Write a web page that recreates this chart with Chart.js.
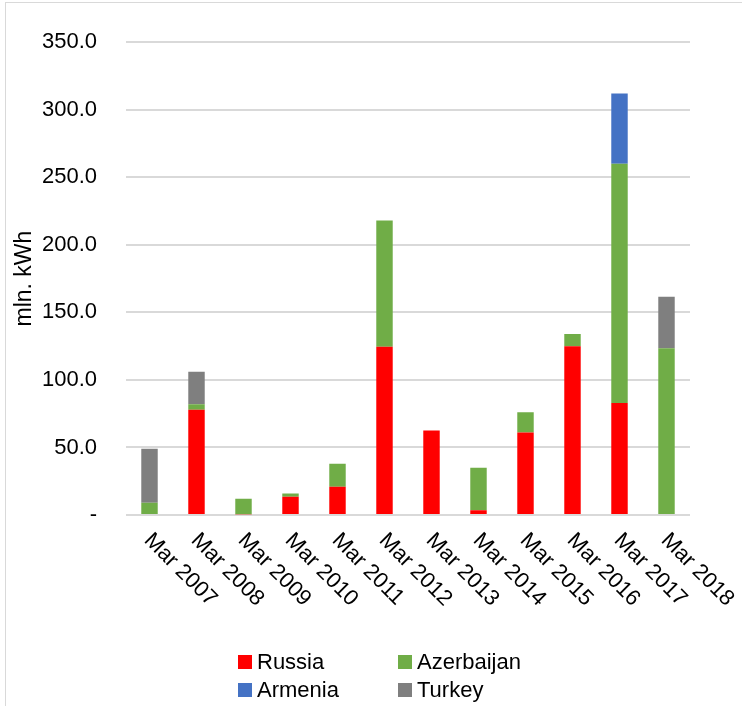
<!DOCTYPE html>
<html>
<head>
<meta charset="utf-8">
<script src="https://cdn.jsdelivr.net/npm/chart.js@4/dist/chart.umd.min.js"></script>
<style>
  html, body { margin: 0; padding: 0; background: #fff; }
  #wrap { position: relative; width: 742px; height: 706px; overflow: hidden; }
  #frame { position: absolute; left: 5px; top: 2px; width: 900px; height: 900px; border: 1px solid #d9d9d9; }
  #c { position: absolute; left: 0; top: 0; }
</style>
</head>
<body>
<div id="wrap">
  <div id="frame"></div>
  <canvas id="c" width="742" height="706"></canvas>
</div>
<script>
const categories = ["Mar 2007","Mar 2008","Mar 2009","Mar 2010","Mar 2011","Mar 2012","Mar 2013","Mar 2014","Mar 2015","Mar 2016","Mar 2017","Mar 2018"];
const russia     = [0, 78, 0.5, 13.5, 21, 124.5, 62.5, 3.5, 61, 125, 83, 0];
const azerbaijan = [9, 4, 11.5, 2.5, 17, 93.5, 0, 31.5, 15, 9, 177, 123.5];
const armenia    = [0, 0, 0, 0, 0, 0, 0, 0, 0, 0, 52, 0];
const turkey     = [40, 24, 0, 0, 0, 0, 0, 0, 0, 0, 0, 38];
const seriesNames = ["Russia", "Azerbaijan", "Armenia", "Turkey"];
const seriesColors = ["#FF0000", "#70AD47", "#4472C4", "#7F7F7F"];
const yTicks = [0, 50, 100, 150, 200, 250, 300, 350];
const yTitle = "mln. kWh";

const FONT = "'Liberation Sans', Arial, sans-serif";
const FSIZE = 22;

const xLabelPlugin = {
  id: 'xLabels',
  afterDraw(chart) {
    const ctx = chart.ctx;
    const xs = chart.scales.x;
    ctx.save();
    ctx.font = FSIZE + "px " + FONT;
    ctx.fillStyle = "#000";
    ctx.textAlign = "left";
    ctx.textBaseline = "middle";
    categories.forEach((lab, i) => {
      const x = xs.getPixelForTick(i);
      const y = chart.chartArea.bottom + 22;
      ctx.save();
      ctx.translate(x - 2, y);
      ctx.rotate(Math.PI / 4);
      ctx.fillText(lab, 0, 0);
      ctx.restore();
    });
    ctx.restore();
  }
};

const legendPlugin = {
  id: 'gridLegend',
  afterDraw(chart) {
    const ctx = chart.ctx;
    ctx.save();
    ctx.font = FSIZE + "px " + FONT;
    ctx.textAlign = "left";
    ctx.textBaseline = "middle";
    const cols = [238, 398];
    const rows = [662, 690];
    seriesNames.forEach((name, i) => {
      const cx = cols[i % 2], cy = rows[Math.floor(i / 2)];
      ctx.fillStyle = seriesColors[i];
      ctx.fillRect(cx, cy - 7, 14, 14);
      ctx.fillStyle = "#000";
      ctx.fillText(name, cx + 19, cy + 1);
    });
    ctx.restore();
  }
};

const seriesData = [russia, azerbaijan, armenia, turkey];

new Chart(document.getElementById('c'), {
  type: 'bar',
  data: {
    labels: categories,
    datasets: seriesNames.map((n, i) => ({
      label: n,
      data: seriesData[i],
      backgroundColor: seriesColors[i],
      borderWidth: 0,
      barPercentage: 0.35,
      categoryPercentage: 1.0
    }))
  },
  options: {
    responsive: false,
    animation: false,
    devicePixelRatio: 1,
    layout: { padding: { left: 0, right: 52, top: 39, bottom: 191 } },
    plugins: {
      legend: { display: false },
      tooltip: { enabled: false }
    },
    scales: {
      x: {
        stacked: true,
        grid: { display: false },
        border: { display: false },
        ticks: { display: false },
        afterFit(s) { s.height = 0; }
      },
      y: {
        stacked: true,
        min: 0,
        max: 350,
        afterBuildTicks(s) { s.ticks = yTicks.map(v => ({ value: v })); },
        afterFit(s) { s.width = 126; },
        grid: { color: "#d9d9d9", lineWidth: 2, drawTicks: false },
        border: { display: false },
        ticks: {
          padding: 29,
          color: "#000",
          font: { family: FONT, size: FSIZE },
          callback: v => v === 0 ? "-" : Number(v).toFixed(1)
        },
        title: {
          display: true,
          text: yTitle,
          color: "#000",
          font: { family: FONT, size: 23 },
          padding: { top: 11, bottom: 0 }
        }
      }
    }
  },
  plugins: [xLabelPlugin, legendPlugin]
});
</script>
</body>
</html>
